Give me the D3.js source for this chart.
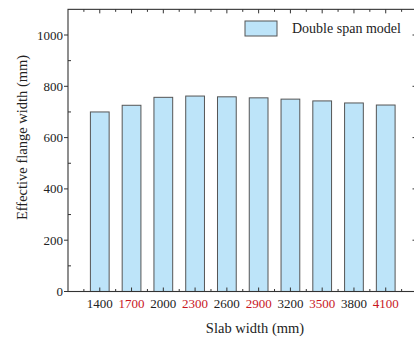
<!DOCTYPE html>
<html>
<head>
<meta charset="utf-8">
<script src="https://cdn.jsdelivr.net/npm/d3@7/dist/d3.min.js"></script>
<style>
  html, body { margin: 0; padding: 0; background: #fff; }
  svg { display: block; }
  text { font-family: "Liberation Serif", "Times New Roman", serif; fill: #222; }
</style>
</head>
<body>
<svg id="chart" width="414" height="338"></svg>
<script>
// Slab widths (mm) and the effective flange width of the double span model (mm)
const slabWidths = [1400, 1700, 2000, 2300, 2600, 2900, 3200, 3500, 3800, 4100];
const flangeWidths = [700, 726, 757, 762, 759, 755, 750, 743, 735, 727];
// Every second slab width label is highlighted in red
const highlighted = [1700, 2300, 2900, 3500, 4100];
const yTickValues = [0, 200, 400, 600, 800, 1000];
const yMinorValues = [100, 300, 500, 700, 900];
const seriesName = "Double span model";

const svg = d3.select("#chart");
const plotLeft = 68, plotRight = 417.5, plotTop = 9.35, plotBottom = 291.5;

const x = d3.scaleLinear().domain([1100, 4400]).range([plotLeft, plotRight]);
const y = d3.scaleLinear().domain([0, 1100]).range([plotBottom, plotTop]);

const step = x(1700) - x(1400);
const barW = step * 0.59;
const axisColor = "#333";
const red = "#c8161e";

// bars
svg.append("g").selectAll("rect")
  .data(slabWidths)
  .join("rect")
  .attr("x", (d) => x(d) - barW / 2)
  .attr("y", (d, i) => y(flangeWidths[i]))
  .attr("width", barW)
  .attr("height", (d, i) => y(0) - y(flangeWidths[i]))
  .attr("fill", "#bde4f9")
  .attr("stroke", "#555")
  .attr("stroke-width", 1);

// frame
svg.append("rect")
  .attr("x", plotLeft).attr("y", plotTop)
  .attr("width", plotRight - plotLeft).attr("height", plotBottom - plotTop)
  .attr("fill", "none").attr("stroke", axisColor).attr("stroke-width", 1.1);

const xMinor = slabWidths.map((d) => d - 150).concat([4250]);
const ticks = svg.append("g").attr("stroke", axisColor).attr("stroke-width", 1);

// bottom & top ticks pointing inward
slabWidths.forEach((d) => {
  ticks.append("line").attr("x1", x(d)).attr("x2", x(d)).attr("y1", plotBottom).attr("y2", plotBottom - 4);
  ticks.append("line").attr("x1", x(d)).attr("x2", x(d)).attr("y1", plotTop).attr("y2", plotTop + 4);
});
xMinor.forEach((d) => {
  ticks.append("line").attr("x1", x(d)).attr("x2", x(d)).attr("y1", plotBottom).attr("y2", plotBottom - 2.5);
  ticks.append("line").attr("x1", x(d)).attr("x2", x(d)).attr("y1", plotTop).attr("y2", plotTop + 2.5);
});

// left ticks: major outward, minor inward; right ticks inward
yTickValues.forEach((v) => {
  ticks.append("line").attr("x1", plotLeft - 4).attr("x2", plotLeft).attr("y1", y(v)).attr("y2", y(v));
  ticks.append("line").attr("x1", plotRight - 5).attr("x2", plotRight).attr("y1", y(v)).attr("y2", y(v));
});
yMinorValues.forEach((v) => {
  ticks.append("line").attr("x1", plotLeft).attr("x2", plotLeft + 3).attr("y1", y(v)).attr("y2", y(v));
  ticks.append("line").attr("x1", plotRight - 3).attr("x2", plotRight).attr("y1", y(v)).attr("y2", y(v));
});

// y tick labels
svg.append("g").selectAll("text")
  .data(yTickValues)
  .join("text")
  .attr("x", plotLeft - 5)
  .attr("y", (d) => y(d))
  .attr("dy", "0.35em")
  .attr("text-anchor", "end")
  .attr("font-size", 13)
  .text((d) => d);

// x tick labels
svg.append("g").selectAll("text")
  .data(slabWidths)
  .join("text")
  .attr("x", (d) => x(d))
  .attr("y", 308)
  .attr("text-anchor", "middle")
  .attr("font-size", 13)
  .style("fill", (d) => highlighted.includes(d) ? red : "#222")
  .text((d) => d);

// axis titles
svg.append("text")
  .attr("x", 255).attr("y", 332.5)
  .attr("text-anchor", "middle")
  .attr("font-size", 14.5)
  .text("Slab width (mm)");

svg.append("text")
  .attr("transform", "translate(27,137.5) rotate(-90)")
  .attr("text-anchor", "middle")
  .attr("font-size", 14.5)
  .text("Effective flange width (mm)");

// legend
svg.append("rect")
  .attr("x", 245).attr("y", 21).attr("width", 32).attr("height", 15)
  .attr("fill", "#bde4f9").attr("stroke", "#555").attr("stroke-width", 1);
svg.append("text")
  .attr("x", 292).attr("y", 33)
  .attr("font-size", 14)
  .text(seriesName);
</script>
</body>
</html>
